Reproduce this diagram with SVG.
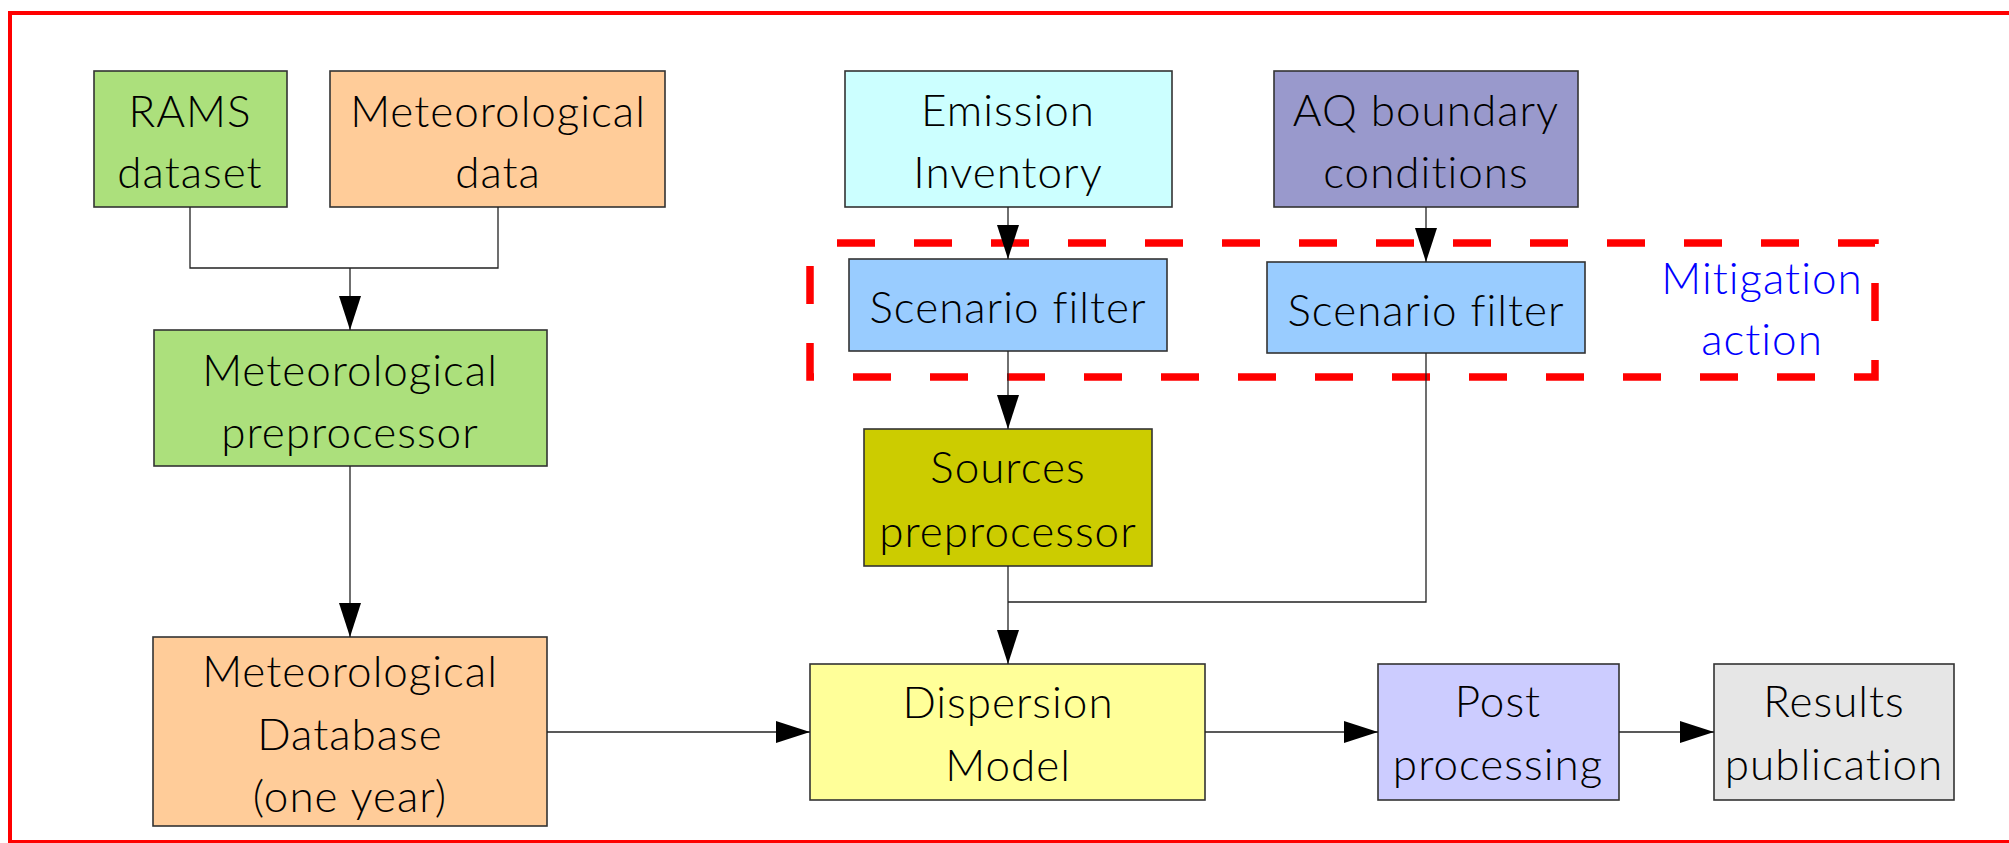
<svg xmlns="http://www.w3.org/2000/svg" width="2009" height="843" viewBox="0 0 2009 843">
  <defs>
    <marker id="arrow" markerUnits="userSpaceOnUse" markerWidth="34" markerHeight="22" refX="34" refY="11" orient="auto">
      <path d="M0,0 L34,11 L0,22 Z" fill="#000"/>
    </marker>
    <style>
      .box { stroke: #333; stroke-width: 1.6; }
      .lbl { font-family: Lato, "Liberation Sans", sans-serif; font-weight: 300; font-size: 44px; letter-spacing: 1px; fill: #000; text-anchor: middle; }
      .blue { fill: #0000ff; }
      .wire { fill: none; stroke: #222; stroke-width: 1.3; }
      .arr { marker-end: url(#arrow); }
    </style>
  </defs>

  <rect width="2009" height="843" fill="#fff"/>

  <!-- outer frame, open on the right -->
  <rect x="10" y="13" width="2010" height="829" fill="none" stroke="#ff0000" stroke-width="4"/>

  <!-- mitigation area -->
  <g id="mitigation">
    <rect x="810" y="243" width="1065" height="134" fill="none" stroke="#ff0000" stroke-width="7.5" stroke-dasharray="38 39" stroke-dashoffset="50"/>
    <text class="lbl blue" x="1762" y="294">Mitigation</text>
    <text class="lbl blue" x="1762" y="355">action</text>
  </g>

  <g id="rams">
    <rect class="box" x="94" y="71" width="193" height="136" fill="#ace07c"/>
    <text class="lbl" x="190" y="127">RAMS</text>
    <text class="lbl" x="190" y="188">dataset</text>
  </g>

  <g id="met-data">
    <rect class="box" x="330" y="71" width="335" height="136" fill="#ffcc99"/>
    <text class="lbl" x="498" y="127">Meteorological</text>
    <text class="lbl" x="498" y="188">data</text>
  </g>

  <g id="emission">
    <rect class="box" x="845" y="71" width="327" height="136" fill="#ccffff"/>
    <text class="lbl" x="1008" y="126">Emission</text>
    <text class="lbl" x="1008" y="188">Inventory</text>
  </g>

  <g id="aq-boundary">
    <rect class="box" x="1274" y="71" width="304" height="136" fill="#9999cc"/>
    <text class="lbl" x="1426" y="126">AQ boundary</text>
    <text class="lbl" x="1426" y="188">conditions</text>
  </g>

  <g id="scenario-1">
    <rect class="box" x="849" y="259" width="318" height="92" fill="#99ccff"/>
    <text class="lbl" x="1008" y="323">Scenario filter</text>
  </g>

  <g id="scenario-2">
    <rect class="box" x="1267" y="262" width="318" height="91" fill="#99ccff"/>
    <text class="lbl" x="1426" y="326">Scenario filter</text>
  </g>

  <g id="met-preproc">
    <rect class="box" x="154" y="330" width="393" height="136" fill="#ace07c"/>
    <text class="lbl" x="350" y="386">Meteorological</text>
    <text class="lbl" x="350" y="448">preprocessor</text>
  </g>

  <g id="sources">
    <rect class="box" x="864" y="429" width="288" height="137" fill="#cccc00"/>
    <text class="lbl" x="1008" y="483">Sources</text>
    <text class="lbl" x="1008" y="547">preprocessor</text>
  </g>

  <g id="met-db">
    <rect class="box" x="153" y="637" width="394" height="189" fill="#ffcc99"/>
    <text class="lbl" x="350" y="687">Meteorological</text>
    <text class="lbl" x="350" y="750">Database</text>
    <text class="lbl" x="350" y="812">(one year)</text>
  </g>

  <g id="dispersion">
    <rect class="box" x="810" y="664" width="395" height="136" fill="#ffff99"/>
    <text class="lbl" x="1008" y="718">Dispersion</text>
    <text class="lbl" x="1008" y="781">Model</text>
  </g>

  <g id="post">
    <rect class="box" x="1378" y="664" width="241" height="136" fill="#ccccff"/>
    <text class="lbl" x="1498" y="717">Post</text>
    <text class="lbl" x="1498" y="780">processing</text>
  </g>

  <g id="results">
    <rect class="box" x="1714" y="664" width="240" height="136" fill="#e6e6e6"/>
    <text class="lbl" x="1834" y="717">Results</text>
    <text class="lbl" x="1834" y="780">publication</text>
  </g>

  <g id="connectors">
    <path class="wire" d="M190,207 V268 H498 V207"/>
    <path class="wire arr" d="M350,268 V330"/>
    <path class="wire arr" d="M350,466 V637"/>
    <path class="wire arr" d="M1008,207 V259"/>
    <path class="wire arr" d="M1426,207 V262"/>
    <path class="wire arr" d="M1008,351 V429"/>
    <path class="wire arr" d="M1008,566 V664"/>
    <path class="wire" d="M1426,353 V602 H1008"/>
    <path class="wire arr" d="M547,732 H810"/>
    <path class="wire arr" d="M1205,732 H1378"/>
    <path class="wire arr" d="M1619,732 H1714"/>
  </g>
</svg>
